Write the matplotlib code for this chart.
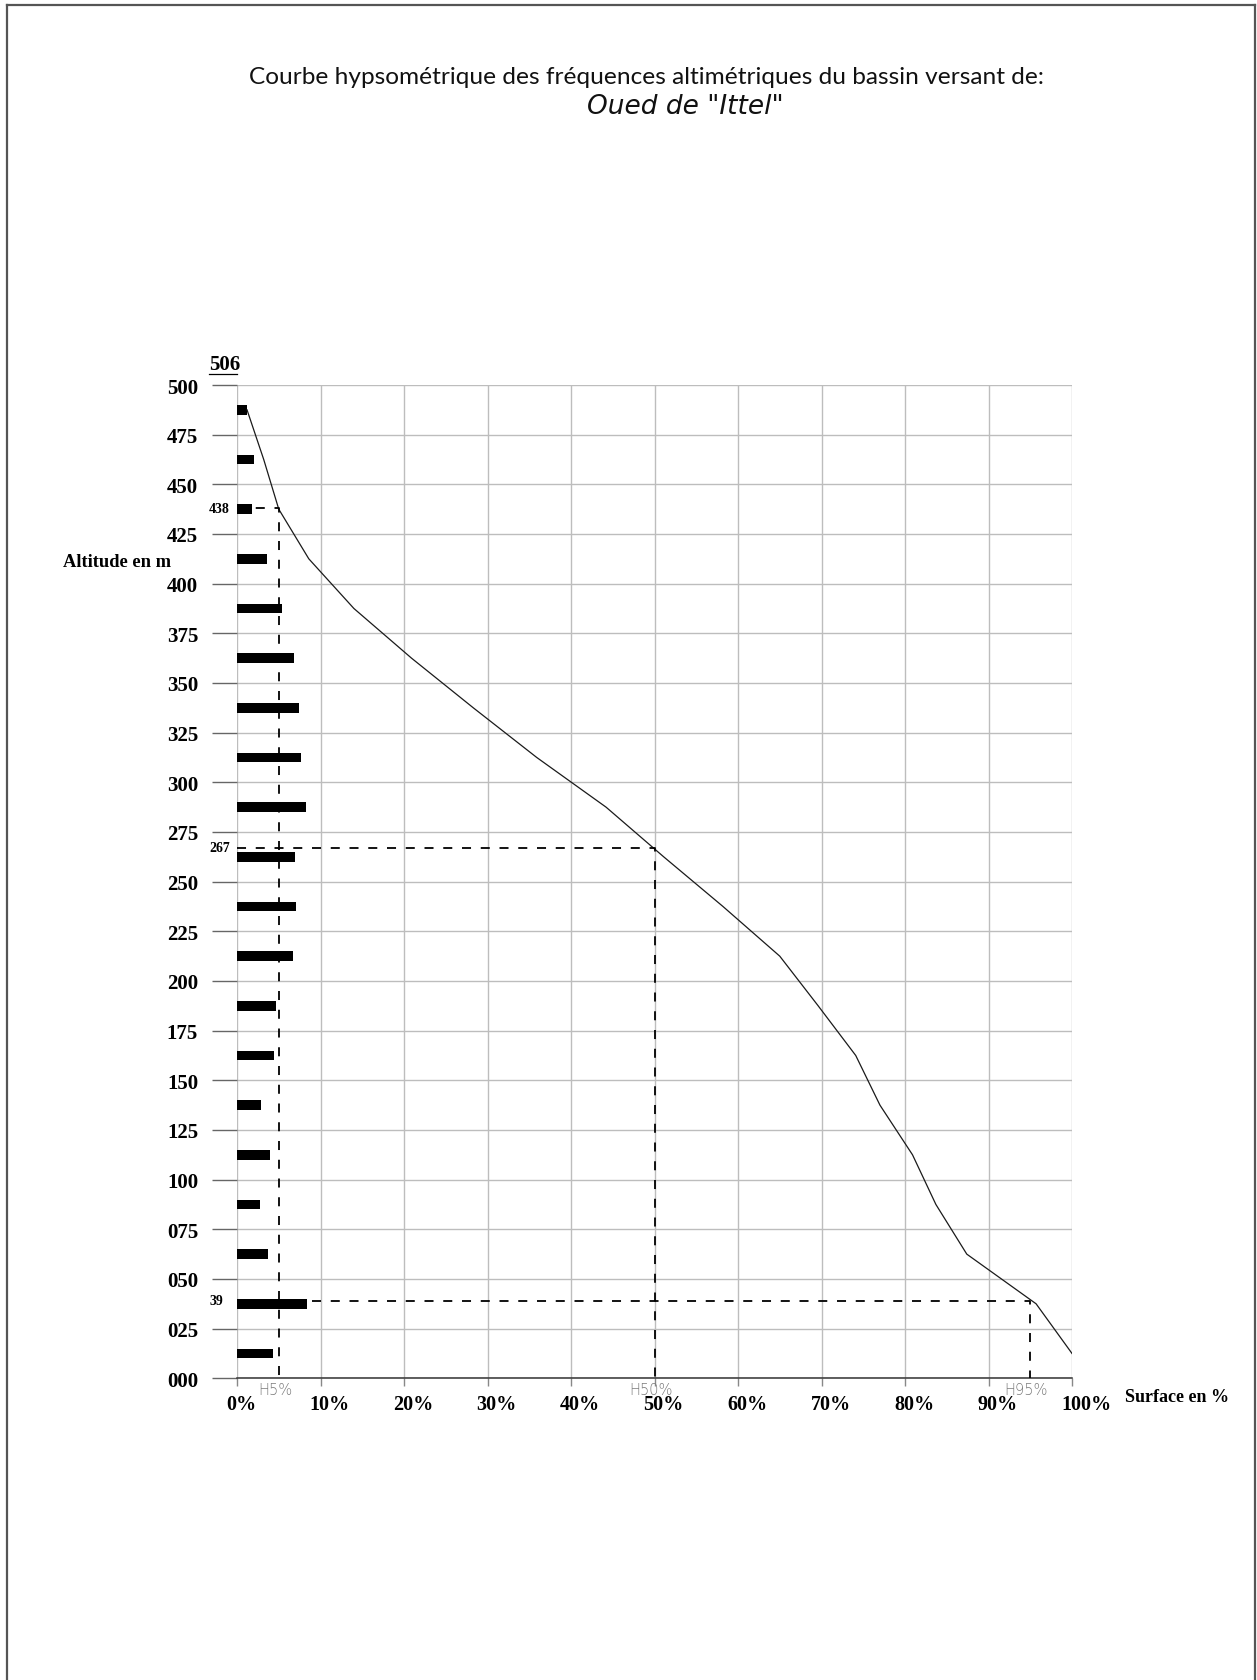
import matplotlib
matplotlib.use('Agg')
import matplotlib.pyplot as plt
from matplotlib.lines import Line2D
from matplotlib.transforms import ScaledTranslation

plt.rcParams['lines.scale_dashes'] = False

# ---------------- data ----------------
altitude_classes = [487.5, 462.5, 437.5, 412.5, 387.5, 362.5, 337.5, 312.5, 287.5, 262.5,
                    237.5, 212.5, 187.5, 162.5, 137.5, 112.5, 87.5, 62.5, 37.5, 12.5]
class_frequency_pct = [1.16, 2.03, 1.83, 3.55, 5.42, 6.88, 7.45, 7.61, 8.29, 6.89,
                       7.06, 6.73, 4.70, 4.46, 2.90, 4.00, 2.71, 3.74, 8.34, 4.34]
cumulative_surface_pct = [1.2, 3.2, 5.0, 8.6, 14.0, 20.9, 28.3, 35.9, 44.2, 51.1,
                          58.2, 65.0, 69.6, 74.1, 77.0, 80.9, 83.7, 87.4, 95.7, 100.0]

y_ticks = [0, 25, 50, 75, 100, 125, 150, 175, 200, 225, 250, 275, 300, 325, 350, 375, 400, 425, 450, 475, 500]
y_tick_labels = ['000', '025', '050', '075', '100', '125', '150', '175', '200', '225', '250',
                 '275', '300', '325', '350', '375', '400', '425', '450', '475', '500']
x_ticks = [0, 10, 20, 30, 40, 50, 60, 70, 80, 90, 100]
x_tick_labels = ['0%', '10%', '20%', '30%', '40%', '50%', '60%', '70%', '80%', '90%', '100%']

h_percent = [5, 50, 95]
h_altitude = [438, 267, 39]
h_labels = ['H5%', 'H50%', 'H95%']
h_alt_labels = ['438', '267', '39']
max_altitude = 506

title_line1 = "Courbe hypsométrique des fréquences altimétriques du bassin versant de:"
title_line2 = 'Oued de "Ittel"'

# ---------------- figure ----------------
W, H = 1257, 1681
fig = plt.figure(figsize=(W / 100, H / 100), dpi=100)
ax = fig.add_axes([237 / W, (H - 1379.3) / H, 835 / W, 993.3 / H])
ax.set_xlim(0, 100)
ax.set_ylim(0, 500)

serif = 'Liberation Serif'

ax.set_axisbelow(True)
ax.grid(True, color='#bdbdbd', lw=1.0)
for s in ['left', 'top', 'right']:
    ax.spines[s].set_visible(False)
ax.spines['bottom'].set_color('#333333')
ax.spines['bottom'].set_linewidth(1.1)

ax.set_yticks(y_ticks)
ax.set_yticklabels(y_tick_labels, fontfamily=serif, fontweight='bold', fontsize=15)
ax.set_xticks(x_ticks)
ax.set_xticklabels(x_tick_labels, fontfamily=serif, fontweight='bold', fontsize=14.5)
ax.tick_params(axis='y', length=18, width=1.0, color='#666666', pad=10)
ax.tick_params(axis='x', length=5.5, width=1.0, color='#888888', pad=6)

# x tick labels are left-aligned slightly before each tick in the original
shift = ScaledTranslation(-11 / 100, 0, fig.dpi_scale_trans)
for lab in ax.get_xticklabels():
    lab.set_horizontalalignment('left')
    lab.set_transform(lab.get_transform() + shift)

# bars (class frequencies)
ax.barh(altitude_classes, class_frequency_pct, height=5, left=0, color='black', zorder=3)

# hypsometric curve
ax.plot(cumulative_surface_pct, altitude_classes, color='#1a1a1a', lw=0.9, zorder=4)

# characteristic altitudes (dashed)
for xp, ya in zip(h_percent, h_altitude):
    ax.plot([0, xp, xp], [ya, ya, 0], color='black', lw=1.3,
            linestyle=(0, (6.5, 7.0)), zorder=5)

ytr = ax.get_yaxis_transform()
for ya, lab in zip(h_altitude, h_alt_labels):
    ax.text(-0.0335, ya, lab, transform=ytr, ha='left', va='center',
            fontfamily=serif, fontweight='bold', fontsize=10)

for xp, lab in zip(h_percent, h_labels):
    ax.text(xp - 0.45, -5.6, lab, ha='center', va='center', color='#7a7a7a',
            fontfamily='DejaVu Sans', fontweight='light', fontsize=10.5)

# max altitude label, underlined
ax.text(-0.0335, 510.8, str(max_altitude), transform=ytr, ha='left', va='center',
        fontfamily=serif, fontweight='bold', fontsize=15)
ax.plot([-0.0335, 0.0], [505.4, 505.4], transform=ytr, clip_on=False,
        color='black', lw=0.9)

# axis names
ax.text(-0.2087, 411.3, 'Altitude en m', transform=ytr, ha='left', va='center',
        fontfamily=serif, fontweight='bold', fontsize=13.3)
ax.text(1.0635, -9.4, 'Surface en %', transform=ytr, ha='left', va='center',
        fontfamily=serif, fontweight='bold', fontsize=13)

# titles
fig.text(646.7 / W, 1 - 78 / H, title_line1, ha='center', va='center',
         fontfamily='Lato', fontsize=17.6, color='#111111')
fig.text(685 / W, 1 - 107 / H, title_line2, ha='center', va='center',
         fontfamily='DejaVu Sans', style='italic', fontsize=19, color='#111111')

# page border (left, top, right)
bc = '#555555'
fig.add_artist(Line2D([6.5 / W, 6.5 / W], [0, 1 - 6 / H], transform=fig.transFigure, color=bc, lw=1.6))
fig.add_artist(Line2D([6.5 / W, 1254.5 / W], [1 - 6 / H, 1 - 6 / H], transform=fig.transFigure, color=bc, lw=1.6))
fig.add_artist(Line2D([1254.5 / W, 1254.5 / W], [0, 1 - 6 / H], transform=fig.transFigure, color=bc, lw=1.6))

fig.savefig('out.png', dpi=100, facecolor='white')
